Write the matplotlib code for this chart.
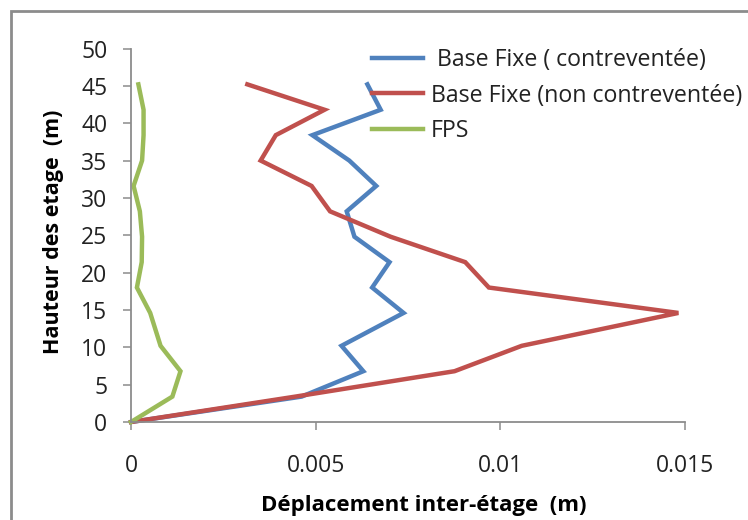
import matplotlib
matplotlib.use("Agg")
import matplotlib.pyplot as plt
from matplotlib.patches import Rectangle

# Storey heights (m) and inter-storey drifts (m)
hauteur = [0, 3.4, 6.8, 10.2, 14.6, 18.0, 21.4, 24.8, 28.2, 31.6, 35.0, 38.4, 41.8, 45.2]
base_fixe_contreventee = [0, 0.00462, 0.00629, 0.00570, 0.00738, 0.00653, 0.00700,
                          0.00605, 0.00584, 0.00664, 0.00591, 0.00491, 0.00676, 0.00640]
base_fixe_non_contreventee = [0, 0.00445, 0.00876, 0.01058, 0.01482, 0.00969, 0.00905,
                              0.00703, 0.00539, 0.00489, 0.00351, 0.00392, 0.00524, 0.00315]
fps = [0, 0.00112, 0.00134, 0.00080, 0.00052, 0.00016, 0.00029,
       0.00030, 0.00024, 0.00007, 0.00030, 0.00034, 0.00034, 0.00020]

labels = [" Base Fixe ( contreventée)", "Base Fixe (non contreventée)", "FPS"]
colors = ["#4F81BD", "#C0504D", "#9BBB59"]

x_ticks = [0, 0.005, 0.01, 0.015]
x_ticklabels = ["0", "0.005", "0.01", "0.015"]
y_ticks = list(range(0, 55, 5))

plt.rcParams["font.family"] = ["Open Sans", "DejaVu Sans"]

W, H = 748, 520
fig = plt.figure(figsize=(W / 100, H / 100), dpi=100)
fig.patch.set_facecolor("white")

# chart frame (top and left edges visible)
fig.patches.append(Rectangle((10.5 / W, -0.2), 1.2, 1.2 - 11 / H,
                             transform=fig.transFigure, fill=False,
                             edgecolor="#8C8C8C", linewidth=2.0, clip_on=False))

ax = fig.add_axes([131 / W, (H - 422) / H, (685 - 131) / W, (422 - 48.5) / H])

series = [base_fixe_contreventee, base_fixe_non_contreventee, fps]
for vals, lab, col in zip(series, labels, colors):
    ax.plot(vals, hauteur, color=col, linewidth=3.2, label=lab,
            solid_joinstyle="miter", clip_on=False)

ax.set_xlim(0, 0.015)
ax.set_ylim(0, 50)
ax.set_xticks(x_ticks)
ax.set_xticklabels(x_ticklabels)
ax.set_yticks(y_ticks)

for side in ["top", "right"]:
    ax.spines[side].set_visible(False)
for side in ["left", "bottom"]:
    ax.spines[side].set_color("#8C8C8C")
    ax.spines[side].set_linewidth(1.3)

ax.tick_params(axis="both", direction="out", length=6, width=1.1,
               color="#8C8C8C", labelsize=16.5, labelcolor="#222222")
ax.tick_params(axis="x", pad=17)
ax.tick_params(axis="y", pad=11)

ax.set_xlabel("Déplacement inter-étage  (m)", fontsize=16, fontweight="bold")
ax.set_ylabel("Hauteur des etage  (m)", fontsize=15.5, fontweight="bold")
ax.xaxis.label.set_verticalalignment("center")
ax.yaxis.label.set_verticalalignment("center")
ax.xaxis.set_label_coords((424 - 131) / (685 - 131), -(506 - 422) / (422 - 48.5),
                          transform=ax.transAxes)
ax.yaxis.set_label_coords(-(131 - 54) / (685 - 131), (422 - 232) / (422 - 48.5),
                          transform=ax.transAxes)

leg = fig.legend(loc="upper left", bbox_to_anchor=(372 / W, 1 - 48 / H),
                 frameon=False, fontsize=16.7, handlelength=2.2,
                 handletextpad=0.33, labelspacing=0.5, borderpad=0,
                 borderaxespad=0)
for t in leg.get_texts():
    t.set_color("#222222")

fig.savefig("out.png", dpi=100)
